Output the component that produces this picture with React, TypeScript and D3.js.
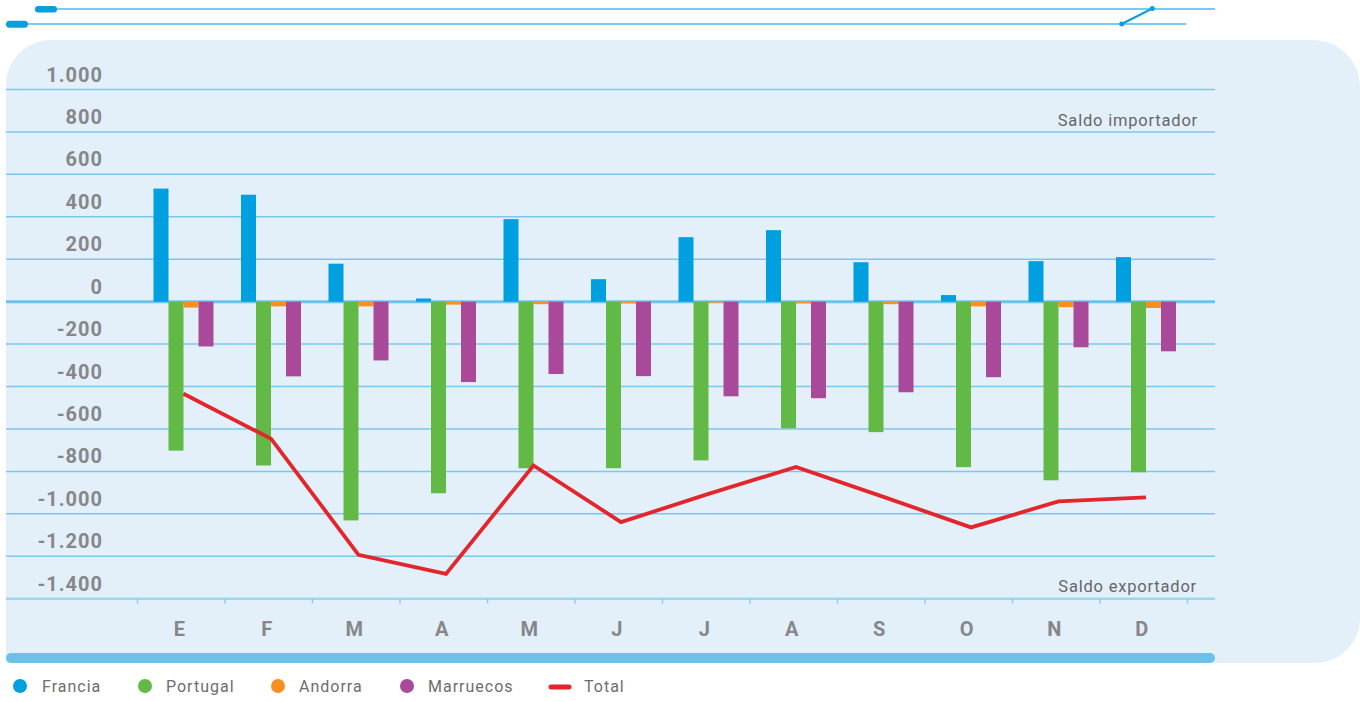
import React from "react";
import * as d3 from "d3";

const months = ["E", "F", "M", "A", "M", "J", "J", "A", "S", "O", "N", "D"];
const francia = [533, 504, 179, 15, 389, 106, 304, 337, 186, 31, 191, 210];
const portugal = [-702, -772, -1031, -903, -785, -785, -748, -597, -615, -780, -842, -804];
const andorra = [-28, -22, -22, -14, -12, -8, -5, -8, -12, -22, -26, -30];
const marruecos = [-211, -352, -277, -379, -341, -351, -446, -455, -427, -356, -215, -234];
const total = [-434, -646, -1193, -1283, -772, -1039, -906, -779, -920, -1064, -941, -922];
const yTicks = [1000, 800, 600, 400, 200, 0, -200, -400, -600, -800, -1000, -1200, -1400];

const seriesNames = ["Francia", "Portugal", "Andorra", "Marruecos"];
const seriesData = [francia, portugal, andorra, marruecos];
const seriesColors = ["#009fe0", "#62b946", "#f7901e", "#a8499a"];
const totalColor = "#e3262b";

const fmt = d3
  .formatLocale({ decimal: ",", thousands: ".", grouping: [3], currency: ["", "€"], minus: "-" })
  .format(",d");

export default function App() {
  const W = 1360;
  const H = 702;
  const x = d3.scaleBand<number>().domain(d3.range(12)).range([137.5, 1187.5]);
  const y = d3.scaleLinear().domain([-1400, 1000]).range([598.7, 89.5]);
  const barW = 15;
  const groupOff = 16;
  const gridLeft = 6;
  const gridRight = 1215;

  const line = d3
    .line<number>()
    .x((_, i) => (x(i) as number) + groupOff + barW * 2)
    .y((d) => y(d));

  const pL = 6, pT = 40, pR = 1360, pB = 663, rTL = 45, rTR = 47, rBR = 45;
  const panel = `M${pL},${pB} L${pL},${pT + rTL} A${rTL},${rTL} 0 0 1 ${pL + rTL},${pT} L${pR - rTR},${pT} A${rTR},${rTR} 0 0 1 ${pR},${pT + rTR} L${pR},${pB - rBR} A${rBR},${rBR} 0 0 1 ${pR - rBR},${pB} Z`;

  const font = "Roboto, 'DejaVu Sans', sans-serif";
  const legendX = [
    { cx: 20, tx: 42 },
    { cx: 145, tx: 166 },
    { cx: 278, tx: 299 },
    { cx: 407, tx: 428 },
  ];

  return (
    <svg
      width={W}
      height={H}
      style={{ position: "absolute", left: 0, top: 0, display: "block" }}
      fontFamily={font}
    >
      <rect x={0} y={0} width={W} height={H} fill="#ffffff" />
      <line x1={50} y1={9} x2={1215} y2={9} stroke="#4cb8e8" strokeWidth={1.5} />
      <rect x={35} y={6} width={22} height={6.5} rx={3.2} fill="#0a9edb" />
      <line x1={20} y1={24} x2={1186} y2={24} stroke="#4cb8e8" strokeWidth={1.5} />
      <rect x={6} y={20.7} width={22} height={7} rx={3.5} fill="#0a9edb" />
      <line x1={1121.7} y1={24} x2={1152.3} y2={8.5} stroke="#0a9edb" strokeWidth={2} />
      <circle cx={1121.7} cy={24} r={2.5} fill="#0a9edb" />
      <circle cx={1152.3} cy={8.5} r={2.5} fill="#0a9edb" />

      <path d={panel} fill="#e3f0fa" />

      {yTicks.map((t) => (
        <line
          key={"g" + t}
          x1={gridLeft}
          x2={gridRight}
          y1={y(t)}
          y2={y(t)}
          stroke={t === 0 ? "#6cc3ec" : t === -1400 ? "#9fd5f2" : "#7cc7ee"}
          strokeWidth={t === 0 ? 3 : t === -1400 ? 2.5 : 1.5}
        />
      ))}
      {d3.range(13).map((i) => {
        const xx = 137.5 + i * x.bandwidth();
        return (
          <line key={"t" + i} x1={xx} x2={xx} y1={y(-1400)} y2={y(-1400) + 5} stroke="#8fcdef" strokeWidth={1.5} />
        );
      })}

      {yTicks.map((t) => (
        <text
          key={"l" + t}
          x={103}
          y={y(t) - 8}
          textAnchor="end"
          fontSize={20}
          fontWeight="bold"
          fill="#87878a"
          letterSpacing={1}
        >
          {fmt(t)}
        </text>
      ))}

      {months.map((m, i) => (
        <text
          key={"m" + i}
          x={(x(i) as number) + x.bandwidth() / 2 - 2}
          y={636}
          textAnchor="middle"
          fontSize={20}
          fontWeight="bold"
          fill="#87878a"
        >
          {m}
        </text>
      ))}

      {seriesData.map((arr, s) =>
        arr.map((v, i) => (
          <rect
            key={`b${s}-${i}`}
            x={(x(i) as number) + groupOff + s * barW}
            y={Math.min(y(v), y(0))}
            width={barW}
            height={Math.abs(y(v) - y(0))}
            fill={seriesColors[s]}
          />
        ))
      )}

      <path d={line(total) || ""} fill="none" stroke={totalColor} strokeWidth={3.8} strokeLinejoin="miter" />

      <text x={1198} y={125.5} textAnchor="end" fontSize={16.5} fill="#666669" letterSpacing={0.8}>
        Saldo importador
      </text>
      <text x={1197} y={592.3} textAnchor="end" fontSize={16.5} fill="#666669" letterSpacing={0.8}>
        Saldo exportador
      </text>

      <rect x={6} y={653} width={1209} height={10} rx={5} fill="#6cc1ea" />

      {seriesNames.map((name, i) => (
        <g key={"lg" + i}>
          <circle cx={legendX[i].cx} cy={686} r={7} fill={seriesColors[i]} />
          <text x={legendX[i].tx} y={692} fontSize={16} fill="#6d6d70" letterSpacing={1}>
            {name}
          </text>
        </g>
      ))}
      <line x1={551} x2={569} y1={687} y2={687} stroke={totalColor} strokeWidth={5} strokeLinecap="round" />
      <text x={584} y={692} fontSize={16} fill="#6d6d70" letterSpacing={1}>
        Total
      </text>
    </svg>
  );
}
